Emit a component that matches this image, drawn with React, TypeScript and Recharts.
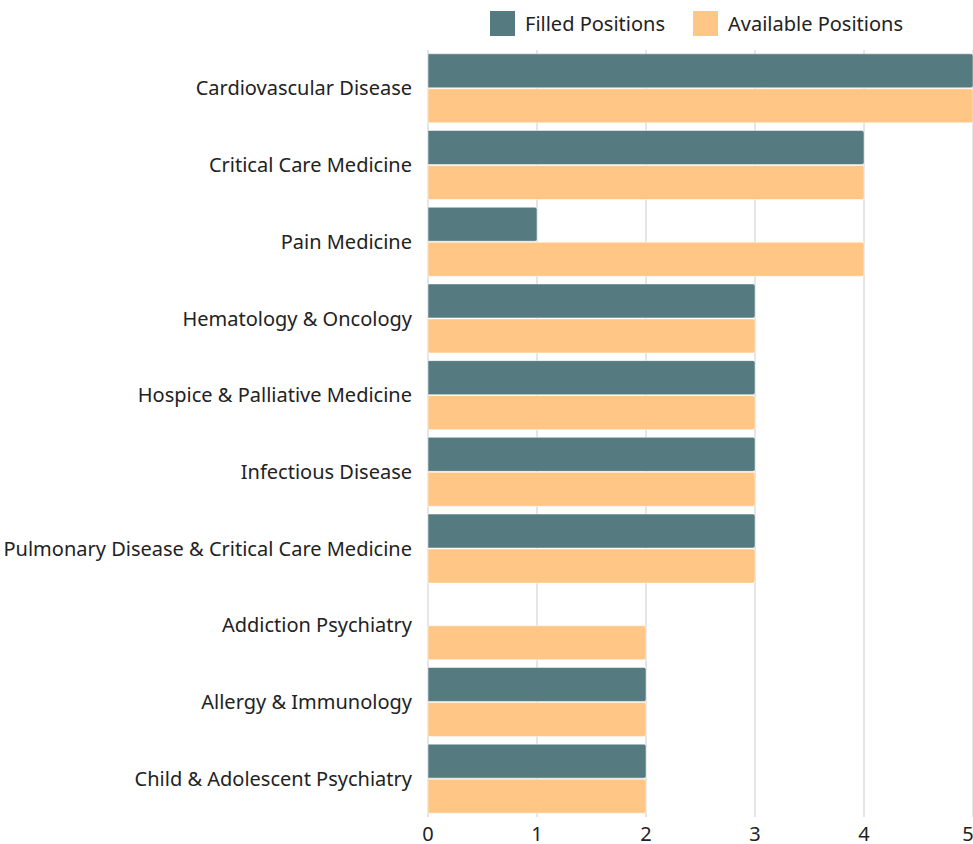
import React from "react";
import { BarChart, Bar, XAxis, YAxis, CartesianGrid, Legend } from "recharts";

const categories = [
  "Cardiovascular Disease",
  "Critical Care Medicine",
  "Pain Medicine",
  "Hematology & Oncology",
  "Hospice & Palliative Medicine",
  "Infectious Disease",
  "Pulmonary Disease & Critical Care Medicine",
  "Addiction Psychiatry",
  "Allergy & Immunology",
  "Child & Adolescent Psychiatry",
];
const filledPositions = [5, 4, 1, 3, 3, 3, 3, 0, 2, 2];
const availablePositions = [5, 4, 4, 3, 3, 3, 3, 2, 2, 2];
const xTicks = [0, 1, 2, 3, 4, 5];

const data = categories.map((name, i) => ({
  name,
  filled: filledPositions[i],
  available: availablePositions[i],
}));

const FONT = "'Noto Sans', sans-serif";
const FILLED = "#557a80";
const AVAILABLE = "#ffc685";

const legendItems = [
  { label: "Filled Positions", color: FILLED },
  { label: "Available Positions", color: AVAILABLE },
];

const LegendContent = () => (
  <div
    style={{
      display: "flex",
      justifyContent: "center",
      alignItems: "flex-start",
      height: 42,
      paddingTop: 3,
      boxSizing: "border-box",
      fontFamily: FONT,
      fontSize: 20,
      color: "#222",
    }}
  >
    {legendItems.map((p, i) => (
      <div key={i} style={{ display: "flex", alignItems: "center", marginLeft: i ? 28 : 0 }}>
        <div style={{ width: 25, height: 25, background: p.color, marginRight: 10 }} />
        <span style={{ lineHeight: "25px" }}>{p.label}</span>
      </div>
    ))}
  </div>
);

export default function App() {
  return (
    <div style={{ position: "absolute", left: 0, top: 8 }}>
      <BarChart
        width={973}
        height={836}
        data={data}
        layout="vertical"
        margin={{ top: 0, right: 0, bottom: 0, left: 8 }}
        barCategoryGap="5%"
        barGap={1}
      >
        <CartesianGrid horizontal={false} stroke="#cccccc" />
        <XAxis
          type="number"
          domain={[0, 5]}
          ticks={xTicks}
          axisLine={false}
          tickLine={false}
          height={27}
          tickMargin={4}
          tick={{ fill: "#222", fontSize: 20, fontFamily: FONT }}
        />
        <YAxis
          type="category"
          dataKey="name"
          width={420}
          axisLine={false}
          tickLine={false}
          tickMargin={10}
          interval={0}
          tick={{ fill: "#222", fontSize: 20, fontFamily: FONT }}
        />
        <Legend
          verticalAlign="top"
          height={42}
          content={LegendContent}
          wrapperStyle={{ left: 428, width: 537, top: 0 }}
        />
        <Bar
          dataKey="filled"
          name="Filled Positions"
          fill={FILLED}
          stroke="#ffffff"
          strokeWidth={0.5}
          radius={[0, 2, 2, 0]}
          isAnimationActive={false}
        />
        <Bar
          dataKey="available"
          name="Available Positions"
          fill={AVAILABLE}
          stroke="#ffffff"
          strokeWidth={0.5}
          radius={[0, 2, 2, 0]}
          isAnimationActive={false}
        />
      </BarChart>
    </div>
  );
}
